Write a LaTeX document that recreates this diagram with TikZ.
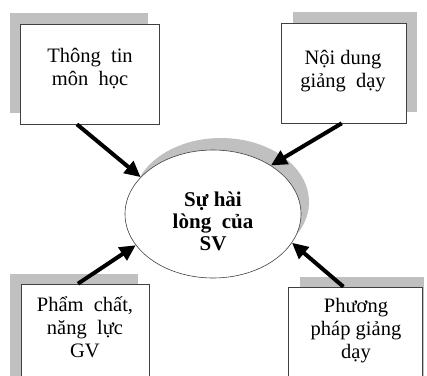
\documentclass[tikz,border=0pt]{standalone}
\usepackage{fontspec}
\setmainfont{Liberation Serif}
\usetikzlibrary{shapes.geometric,arrows.meta}
\definecolor{shade}{HTML}{C0C0C0}
\definecolor{edge}{HTML}{404040}
\tikzset{
  shadowfill/.style={fill=shade,draw=none},
  boxnode/.style={draw=edge,fill=white,line width=0.6pt,inner sep=0pt,minimum height=100pt},
  txt/.style={font=\fontsize{20.5}{23}\selectfont,align=center,inner sep=0pt},
  ctxt/.style={font=\fontsize{21}{22}\selectfont\bfseries,align=center,inner sep=0pt},
  conn/.style={line width=4pt,black,-{Triangle[length=16pt,width=15pt]}},
  ell/.style={ellipse,inner sep=0pt,minimum width=176pt,minimum height=128pt}
}
\begin{document}
\begin{tikzpicture}[x=1pt,y=-1pt]
\useasboundingbox (0,0) rectangle (427,375);
\clip (0,0) rectangle (427,375);
% shadows of boxes
\fill[shadowfill] (10,13) rectangle (148,113);
\fill[shadowfill] (293,12) rectangle (417,112);
\fill[shadowfill] (10,274) rectangle (138,380);
\fill[shadowfill] (300,277) rectangle (424,380);
% boxes
\node[boxnode,minimum width=139pt] (tl) at (89.5,74) {};
\node[boxnode,minimum width=125pt] (tr) at (343.5,73) {};
\node[boxnode,minimum width=128pt] (bl) at (85,334) {};
\node[boxnode,minimum width=134pt] (br) at (355,337) {};
% ellipse
\node[ell,shadowfill] (es) at (221,202) {};
\node[ell,draw=edge,fill=white,line width=0.6pt] (el) at (213,214) {};
% connectors
\draw[conn] (tl.-104) -- (el.153);
\draw[conn] (tr.-92) -- (el.40);
\draw[conn] (bl.98) -- (el.202);
\draw[conn] (br.103) -- (el.-20);
% texts
\node[txt] (tlt) at (90,69) {Thông\ \ tin\\môn\ \ học};
\node[txt] (trt) at (343,71) {Nội dung\\giảng\ \ dạy};
\node[txt] (blt) at (85,327) {Phẩm\ \ chất,\\năng\ \ lực\\GV};
\node[txt] (brt) at (356,331) {Phương\\pháp giảng\\dạy};
\node[ctxt] (elt) at (213,221) {Sự hài\\lòng\ \ của\\SV};
\end{tikzpicture}
\end{document}
